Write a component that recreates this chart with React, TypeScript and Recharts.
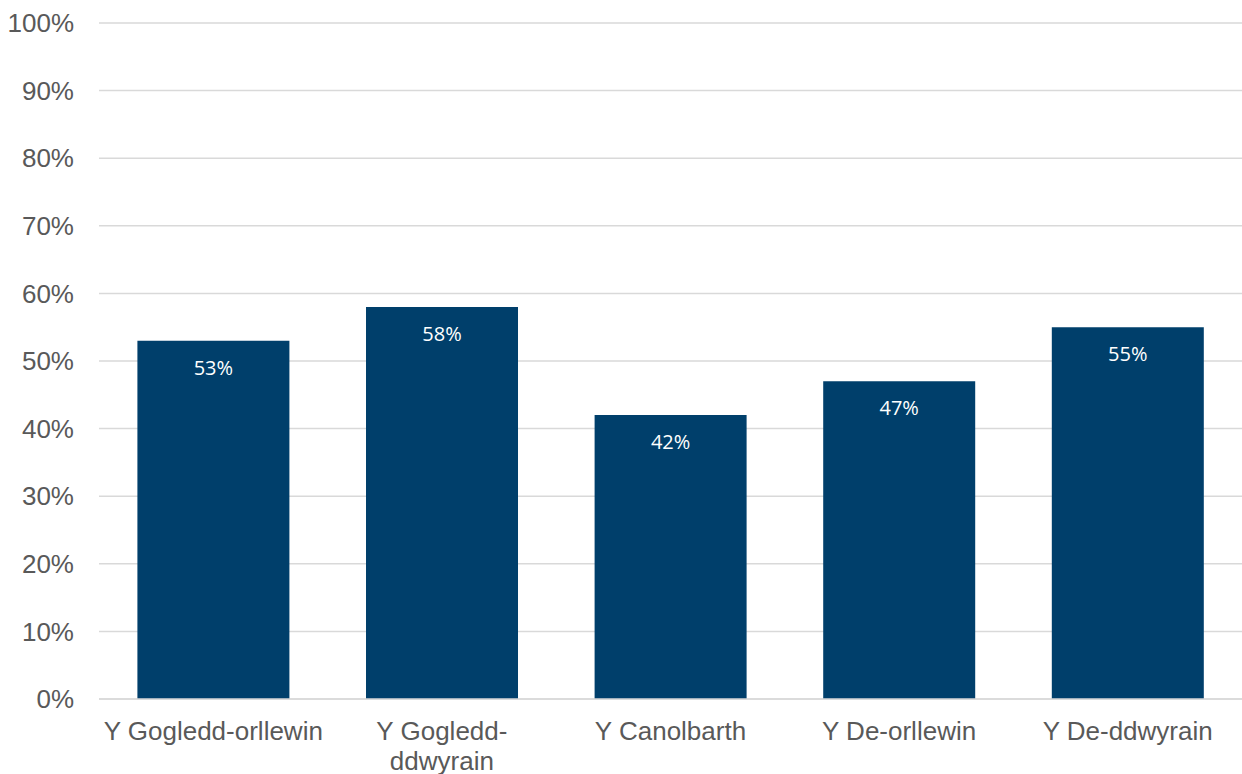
import React from 'react';
import { BarChart, Bar, XAxis, YAxis, CartesianGrid, LabelList } from 'recharts';

const regions = ['Y Gogledd-orllewin', 'Y Gogledd-ddwyrain', 'Y Canolbarth', 'Y De-orllewin', 'Y De-ddwyrain'];
const shares = [0.53, 0.58, 0.42, 0.47, 0.55];
const tickLines = [['Y Gogledd-orllewin'], ['Y Gogledd-', 'ddwyrain'], ['Y Canolbarth'], ['Y De-orllewin'], ['Y De-ddwyrain']];
const yTicks = [0, 0.1, 0.2, 0.3, 0.4, 0.5, 0.6, 0.7, 0.8, 0.9, 1];

const data = regions.map((name, i) => ({ name, value: shares[i] }));

const pct = (v: number) => `${Math.round(v * 100)}%`;

const RegionTick = (props: any) => {
  const { x, y, index } = props;
  const lines = tickLines[index] || [props.payload.value];
  return (
    <text x={x} y={y} textAnchor="middle" fill="#595959" fontSize={26} fontFamily="Liberation Sans, Arial, sans-serif">
      {lines.map((l: string, i: number) => (
        <tspan key={i} x={x} dy={i === 0 ? 33 : 30}>{l}</tspan>
      ))}
    </text>
  );
};

const App: React.FC = () => {
  return (
    <div style={{ position: 'absolute', left: 0, top: 0, background: '#fff' }}>
      <BarChart width={1242} height={774} data={data} margin={{ top: 23, right: 0, bottom: 0, left: 0 }} barCategoryGap="16.8%">
        <CartesianGrid vertical={false} stroke="#d9d9d9" strokeWidth={1.5} />
        <XAxis
          dataKey="name"
          height={75}
          tickLine={false}
          axisLine={{ stroke: '#d9d9d9', strokeWidth: 1.5 }}
          tick={<RegionTick />}
          interval={0}
        />
        <YAxis
          width={99}
          domain={[0, 1]}
          ticks={yTicks}
          tickFormatter={pct}
          axisLine={false}
          tickLine={false}
          tickSize={0}
          tickMargin={25}
          tick={{ fill: '#595959', fontSize: 26, fontFamily: 'Liberation Sans, Arial, sans-serif' }}
        />
        <Bar dataKey="value" fill="#003f6b" isAnimationActive={false}>
          <LabelList
            dataKey="value"
            position="insideTop"
            offset={20}
            formatter={(v: any) => pct(Number(v))}
            fill="#ffffff"
            fontSize={20}
            fontFamily="Open Sans, Noto Sans, sans-serif"
          />
        </Bar>
      </BarChart>
    </div>
  );
};

export default App;
